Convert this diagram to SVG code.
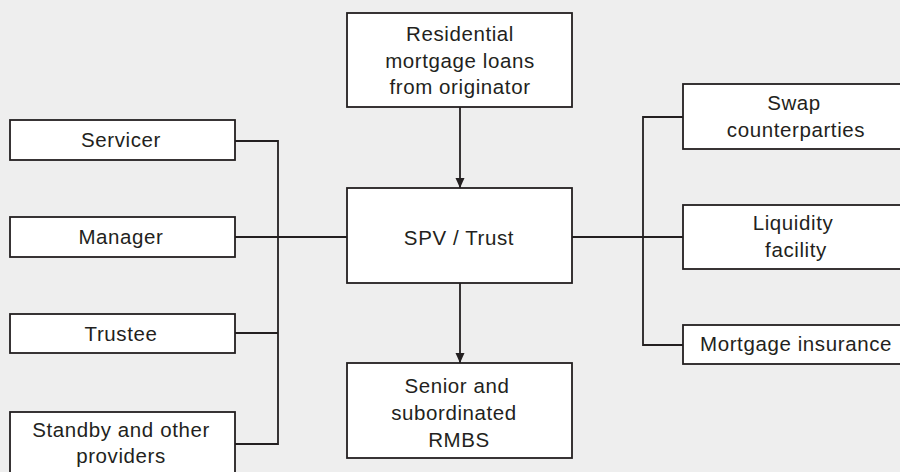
<svg xmlns="http://www.w3.org/2000/svg" width="900" height="472" viewBox="0 0 900 472">
<defs>
<style>
.box{fill:#ffffff;stroke:#231f20;stroke-width:1.8}
.ln{fill:none;stroke:#231f20;stroke-width:1.8}
text{font-family:"Liberation Sans",Arial,sans-serif;font-size:20.5px;fill:#231f20;text-anchor:middle;letter-spacing:0.6px}
</style>
<marker id="arr" viewBox="0 0 10 10" refX="10" refY="5" markerWidth="11" markerHeight="10" markerUnits="userSpaceOnUse" orient="auto">
<path d="M0,0.5 L10,5 L0,9.5 Z" fill="#231f20"/>
</marker>
</defs>
<rect width="900" height="472" fill="#eeeeee"/>
<g id="connectors">
<line class="ln" x1="460" y1="107" x2="460" y2="188" marker-end="url(#arr)"/>
<line class="ln" x1="460" y1="283" x2="460" y2="363" marker-end="url(#arr)"/>
<polyline class="ln" points="235,141 278,141 278,444 235,444"/>
<line class="ln" x1="235" y1="237" x2="347" y2="237"/>
<line class="ln" x1="235" y1="333" x2="278" y2="333"/>
<polyline class="ln" points="683,117 643,117 643,345 683,345"/>
<line class="ln" x1="572" y1="237" x2="683" y2="237"/>
</g>
<g id="originator">
<rect class="box" x="347" y="13" width="225" height="94"/>
<text x="460" y="41">Residential</text>
<text x="460" y="68">mortgage loans</text>
<text x="460" y="94">from originator</text>
</g>
<g id="spv">
<rect class="box" x="347" y="188" width="225" height="95"/>
<text x="459" y="245">SPV / Trust</text>
</g>
<g id="rmbs">
<rect class="box" x="347" y="363" width="225" height="95"/>
<text x="457" y="393">Senior and</text>
<text x="454" y="420">subordinated</text>
<text x="459" y="447">RMBS</text>
</g>
<g id="servicer">
<rect class="box" x="10" y="120" width="225" height="40"/>
<text x="121" y="147">Servicer</text>
</g>
<g id="manager">
<rect class="box" x="10" y="217" width="225" height="40"/>
<text x="121" y="244">Manager</text>
</g>
<g id="trustee">
<rect class="box" x="10" y="314" width="225" height="39"/>
<text x="121" y="341">Trustee</text>
</g>
<g id="standby">
<rect class="box" x="10" y="412" width="225" height="70"/>
<text x="121" y="437">Standby and other</text>
<text x="121" y="463">providers</text>
</g>
<g id="swap">
<rect class="box" x="683" y="84" width="230" height="65"/>
<text x="794" y="110">Swap</text>
<text x="796" y="137">counterparties</text>
</g>
<g id="liquidity">
<rect class="box" x="683" y="205" width="230" height="64"/>
<text x="793" y="230">Liquidity</text>
<text x="796" y="257">facility</text>
</g>
<g id="insurance">
<rect class="box" x="683" y="325" width="230" height="39"/>
<text x="796" y="351">Mortgage insurance</text>
</g>
</svg>
